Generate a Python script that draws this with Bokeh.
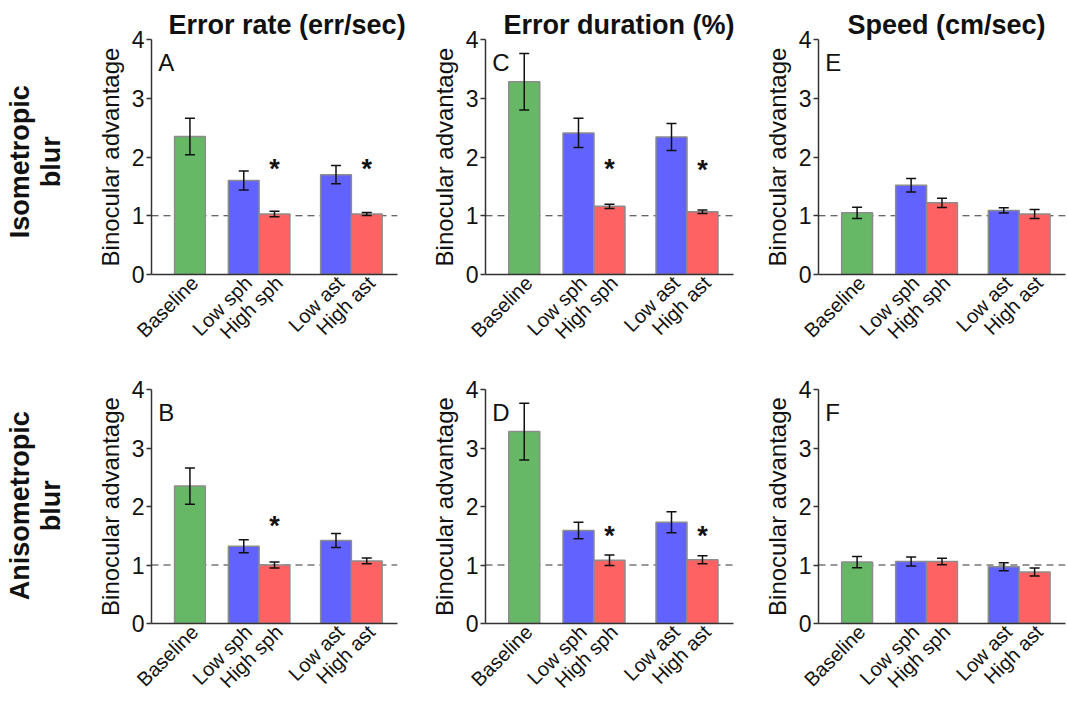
from math import pi
from bokeh.plotting import figure
from bokeh.layouts import row, column
from bokeh.models import Range1d, FixedTicker, Whisker, TeeHead, ColumnDataSource, Span, Label
from bokeh.core.properties import value
from bokeh.embed import file_html
from bokeh.resources import INLINE

FONT = "Liberation Sans"

# ---------------- data ----------------
categories = ["Baseline", "Low sph", "High sph", "Low ast", "High ast"]
col_titles = ["Error rate (err/sec)", "Error duration (%)", "Speed (cm/sec)"]
row_titles = ["Isometropic", "Anisometropic"]

# Isometropic blur (top row)
err_rate_iso = [2.35, 1.60, 1.03, 1.70, 1.03]
err_rate_iso_se = [0.31, 0.16, 0.045, 0.155, 0.025]
err_dur_iso = [3.28, 2.41, 1.16, 2.34, 1.07]
err_dur_iso_se = [0.48, 0.25, 0.035, 0.23, 0.03]
speed_iso = [1.05, 1.52, 1.22, 1.09, 1.03]
speed_iso_se = [0.095, 0.115, 0.08, 0.045, 0.075]

# Anisometropic blur (bottom row)
err_rate_aniso = [2.35, 1.32, 1.00, 1.42, 1.07]
err_rate_aniso_se = [0.31, 0.11, 0.05, 0.12, 0.05]
err_dur_aniso = [3.28, 1.59, 1.08, 1.73, 1.09]
err_dur_aniso_se = [0.485, 0.14, 0.09, 0.18, 0.07]
speed_aniso = [1.05, 1.06, 1.06, 0.97, 0.88]
speed_aniso_se = [0.095, 0.075, 0.057, 0.07, 0.07]

# significance stars: (category, height)
stars_A = [("High sph", 1.90), ("High ast", 1.90)]
stars_C = [("High sph", 1.90), ("High ast", 1.88)]
stars_E = []
stars_B = [("High sph", 1.77)]
stars_D = [("High sph", 1.60), ("High ast", 1.60)]
stars_F = []

y_ticks = [0, 1, 2, 3, 4]

# ---------------- layout / style ----------------
slot_x = [1.25, 3, 4, 6, 7]          # bar centres on the x scale
label_shift = 0.15                   # rotated labels sit slightly right of bar centre
bar_colors = ["#66b866", "#6262ff", "#ff6262", "#6262ff", "#ff6262"]
pos = dict(zip(categories, slot_x))

TOP_H, BOT_H = 354, 348
LABEL_W = 78
col_w = [329, 332, 328]
col_left = [73, 78, 79]
col_right = [10, 6, 2]
title_offset = [17, 18, 29]


def make_panel(vals, errs, letter, stars, ci, top_row):
    h = TOP_H if top_row else BOT_H
    p = figure(width=col_w[ci], height=h,
               x_range=Range1d(0, 8), y_range=Range1d(0, 4),
               output_backend="svg", toolbar_location=None,
               min_border_left=col_left[ci], min_border_right=col_right[ci],
               min_border_top=39 if top_row else 35,
               min_border_bottom=80 if top_row else 78)
    p.outline_line_color = None
    p.xgrid.visible = False
    p.ygrid.visible = False
    p.background_fill_color = "white"
    p.border_fill_color = "white"

    if top_row:
        p.title.text = col_titles[ci]
        p.title.align = "left"
        p.title.offset = title_offset[ci]
        p.title.text_font = FONT
        p.title.text_font_size = "27px"
        p.title.text_font_style = "bold"
        p.title.text_color = "#111111"
        p.title.standoff = 0

    p.add_layout(Span(location=1, dimension="width", line_color="#333333",
                      line_width=1.2, line_dash="7 5", level="underlay"))

    src = ColumnDataSource(dict(
        x=slot_x, top=vals, color=bar_colors,
        upper=[v + e for v, e in zip(vals, errs)],
        lower=[v - e for v, e in zip(vals, errs)],
    ))
    p.vbar(x="x", top="top", width=1, bottom=0, source=src,
           fill_color="color", line_color="#8c8c8c", line_width=1.5)

    wk = Whisker(base="x", upper="upper", lower="lower", source=src,
                 level="overlay", line_color="#111111", line_width=1.5,
                 upper_head=TeeHead(size=10, line_color="#111111", line_width=1.5),
                 lower_head=TeeHead(size=10, line_color="#111111", line_width=1.5))
    p.add_layout(wk)

    if stars:
        p.text(x=[pos[c] for c, _ in stars], y=[yv for _, yv in stars],
               text=["*"] * len(stars), text_font=value(FONT),
               text_font_style="bold", text_font_size="27px",
               text_align="center", text_baseline="middle", y_offset=6,
               text_color="#111111")

    p.add_layout(Label(x=0.22, y=3.84, text=letter, text_font=FONT,
                       text_font_size="24px", text_baseline="top",
                       text_align="left", text_color="#111111"))

    # y axis
    ya = p.yaxis[0]
    ya.ticker = FixedTicker(ticks=y_ticks)
    ya.axis_label = "Binocular advantage"
    ya.axis_label_text_font = FONT
    ya.axis_label_text_font_style = "normal"
    ya.axis_label_text_font_size = "24px"
    ya.axis_label_text_color = "#111111"
    ya.axis_label_standoff = 5
    ya.major_label_text_font = FONT
    ya.major_label_text_font_size = "23px"
    ya.major_label_text_color = "#111111"
    ya.major_label_standoff = 2
    ya.major_tick_out = 5
    ya.major_tick_in = 0
    ya.minor_tick_out = 0
    ya.minor_tick_in = 0
    ya.axis_line_color = "#333333"
    ya.axis_line_width = 1.5
    ya.major_tick_line_color = "#333333"
    ya.major_tick_line_width = 1.5

    # x axis
    xa = p.xaxis[0]
    tick_pos = [x + label_shift for x in slot_x]
    xa.ticker = FixedTicker(ticks=tick_pos)
    xa.major_label_overrides = {float(x): c for x, c in zip(tick_pos, categories)}
    xa.major_label_orientation = pi / 4
    xa.major_label_text_font = FONT
    xa.major_label_text_font_size = "20px"
    xa.major_label_text_color = "#111111"
    xa.major_label_standoff = 5
    xa.major_tick_out = 0
    xa.major_tick_in = 0
    xa.minor_tick_out = 0
    xa.minor_tick_in = 0
    xa.axis_line_color = "#333333"
    xa.axis_line_width = 1.5
    return p


def make_row_label(text, h, yc):
    p = figure(width=LABEL_W, height=h, x_range=Range1d(0, LABEL_W), y_range=Range1d(0, h),
               x_axis_type=None, y_axis_type=None, output_backend="svg",
               toolbar_location=None, min_border=0)
    p.outline_line_color = None
    p.text(x=[19, 50], y=[yc, yc], text=[text, "blur"], angle=pi / 2,
           text_font=value(FONT), text_font_style="bold", text_font_size="27px",
           text_align="center", text_baseline="alphabetic", text_color="#111111")
    return p


top = row(
    make_row_label(row_titles[0], TOP_H, 170),
    make_panel(err_rate_iso, err_rate_iso_se, "A", stars_A, 0, True),
    make_panel(err_dur_iso, err_dur_iso_se, "C", stars_C, 1, True),
    make_panel(speed_iso, speed_iso_se, "E", stars_E, 2, True),
)
bottom = row(
    make_row_label(row_titles[1], BOT_H, 175),
    make_panel(err_rate_aniso, err_rate_aniso_se, "B", stars_B, 0, False),
    make_panel(err_dur_aniso, err_dur_aniso_se, "D", stars_D, 1, False),
    make_panel(speed_aniso, speed_aniso_se, "F", stars_F, 2, False),
)
layout = column(top, bottom)

open("out.html", "w").write(file_html(layout, INLINE))
